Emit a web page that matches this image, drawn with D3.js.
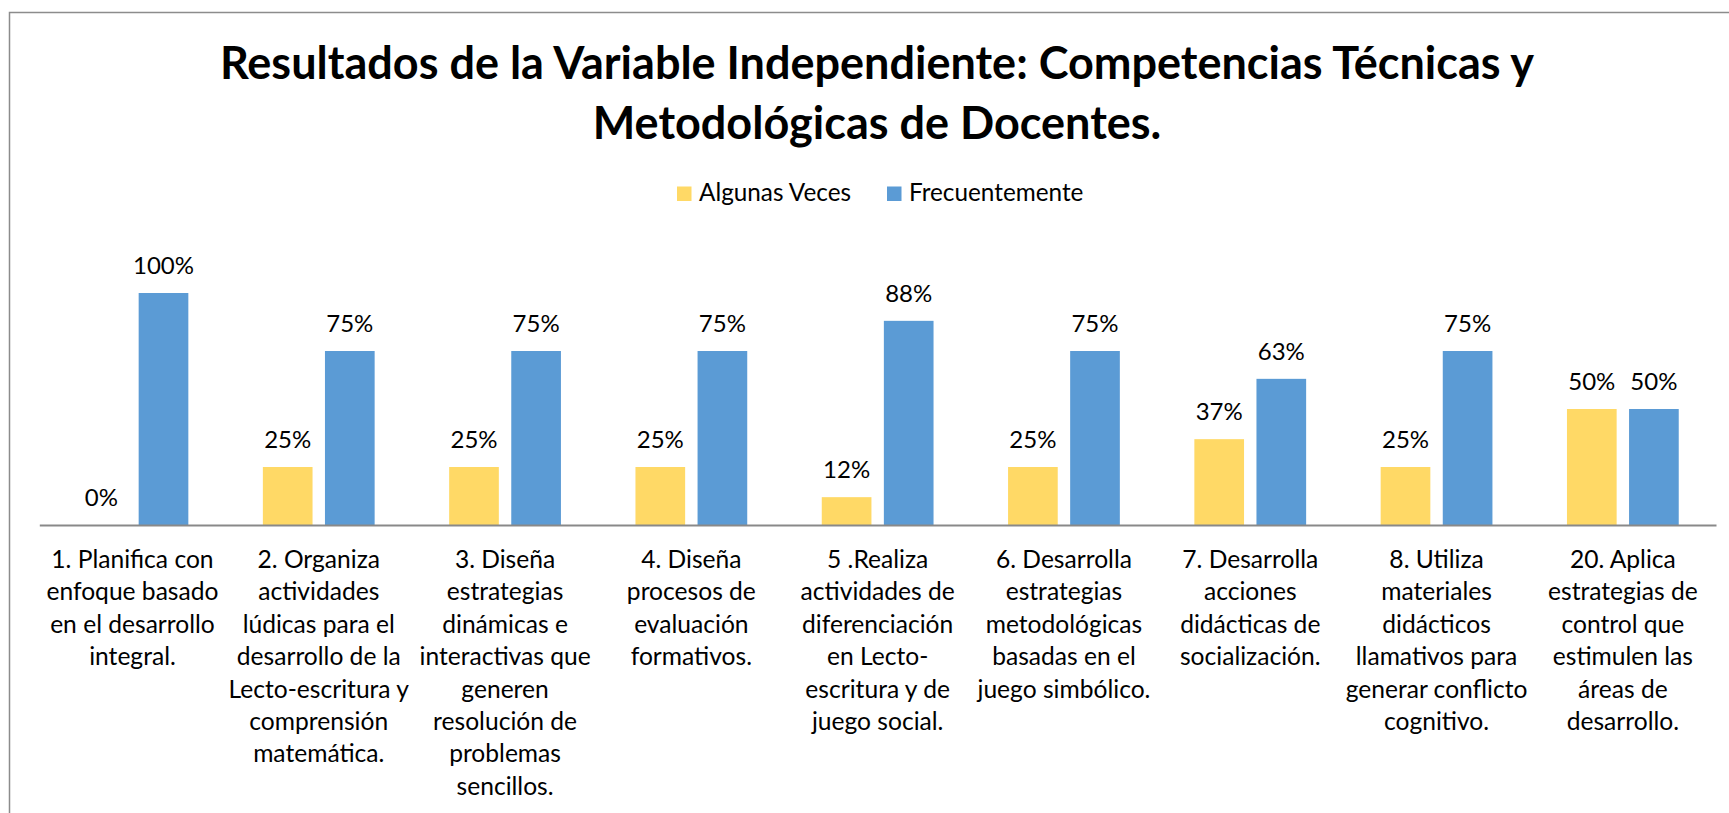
<!DOCTYPE html>
<html>
<head>
<meta charset="utf-8">
<script src="https://cdn.jsdelivr.net/npm/d3@7"></script>
<style>
  body { margin: 0; background: #fff; }
  text { font-family: Lato, 'Open Sans', sans-serif; fill: #000; }
</style>
</head>
<body>
<svg id="chart" width="1729" height="813"></svg>
<script>
const categories = [
    '1. Planifica con\nenfoque basado\nen el desarrollo\nintegral.',
    '2. Organiza\nactividades\nlúdicas para el\ndesarrollo de la\nLecto-escritura y\ncomprensión\nmatemática.',
    '3. Diseña\nestrategias\ndinámicas e\ninteractivas que\ngeneren\nresolución de\nproblemas\nsencillos.',
    '4. Diseña\nprocesos de\nevaluación\nformativos.',
    '5 .Realiza\nactividades de\ndiferenciación\nen Lecto-\nescritura y de\njuego social.',
    '6. Desarrolla\nestrategias\nmetodológicas\nbasadas en el\njuego simbólico.',
    '7. Desarrolla\nacciones\ndidácticas de\nsocialización.',
    '8. Utiliza\nmateriales\ndidácticos\nllamativos para\ngenerar conflicto\ncognitivo.',
    '20. Aplica\nestrategias de\ncontrol que\nestimulen las\náreas de\ndesarrollo.'
]
const seriesNames = ['Algunas Veces', 'Frecuentemente']
const algunasVeces = [0, 0.25, 0.25, 0.25, 0.12, 0.25, 0.37, 0.25, 0.50]
const frecuentemente = [1.00, 0.75, 0.75, 0.75, 0.88, 0.75, 0.63, 0.75, 0.50]
const titleLines = ['Resultados de la Variable Independiente: Competencias Técnicas y', 'Metodológicas de Docentes.']

const colors = { 'Algunas Veces': '#FFD966', 'Frecuentemente': '#5B9BD5' }

// filas para d3: una por categoria
const data = categories.map((c, i) => ({
    category: c,
    values: [
        { serie: seriesNames[0], value: algunasVeces[i] },
        { serie: seriesNames[1], value: frecuentemente[i] }
    ]
}))

const svg = d3.select('#chart')

// marco del grafico (recortado a la derecha y abajo como en la captura)
svg.append('rect')
    .attr('x', 9.5).attr('y', 12.5)
    .attr('width', 1760).attr('height', 900)
    .attr('fill', 'none')
    .attr('stroke', '#8c8c8c')
    .attr('stroke-width', 1.5)

const x0 = d3.scaleBand()
    .domain(categories)
    .range([39.3, 1716])
    .paddingInner(0.4)
    .paddingOuter(0.2)

const x1 = d3.scaleBand()
    .domain(seriesNames)
    .range([0, x0.bandwidth()])
    .paddingInner(0.2)

const y = d3.scaleLinear()
    .domain([0, 1])
    .range([525, 293])

const fmt = d3.format('.0%')

// titulo
svg.append('text')
    .attr('x', 877)
    .attr('y', 78.5)
    .attr('text-anchor', 'middle')
    .style('font-size', '45px')
    .style('font-weight', 'bold')
    .selectAll('tspan')
    .data(titleLines)
    .join('tspan')
    .attr('x', 877)
    .attr('dy', (d, i) => i === 0 ? 0 : 60)
    .text(d => d)

// leyenda
const legend = svg.append('g')
const legendX = [677, 887]
seriesNames.forEach((s, i) => {
    legend.append('rect')
        .attr('x', legendX[i]).attr('y', 186.5)
        .attr('width', 14.5).attr('height', 14.5)
        .attr('fill', colors[s])
    legend.append('text')
        .attr('x', legendX[i] + 22).attr('y', 200.5)
        .style('font-size', '24.3px')
        .text(s)
})

// barras
const groups = svg.selectAll('g.cat')
    .data(data)
    .join('g')
    .attr('class', 'cat')
    .attr('transform', d => `translate(${x0(d.category)},0)`)

groups.selectAll('rect')
    .data(d => d.values)
    .join('rect')
    .attr('x', d => x1(d.serie))
    .attr('width', x1.bandwidth())
    .attr('y', d => y(d.value))
    .attr('height', d => y(0) - y(d.value))
    .attr('fill', d => colors[d.serie])

groups.selectAll('text.val')
    .data(d => d.values)
    .join('text')
    .attr('class', 'val')
    .attr('x', d => x1(d.serie) + x1.bandwidth() / 2)
    .attr('y', d => y(d.value) - 19)
    .attr('text-anchor', 'middle')
    .style('font-size', '24px')
    .text(d => fmt(d.value))

// eje x
const xAxis = d3.axisBottom(x0).tickSize(0).tickPadding(0)
const axisG = svg.append('g')
    .attr('transform', `translate(0,${y(0)})`)
    .call(xAxis)
axisG.select('.domain').attr('stroke', '#898989').attr('stroke-width', 2)
axisG.selectAll('.tick text').remove()
axisG.selectAll('.tick')
    .append('text')
    .attr('text-anchor', 'middle')
    .style('font-size', '24.6px')
    .selectAll('tspan')
    .data(d => d.split('\n'))
    .join('tspan')
    .attr('x', 0)
    .attr('y', (d, i) => 43 + i * 32.4)
    .text(d => d)
</script>
</body>
</html>
